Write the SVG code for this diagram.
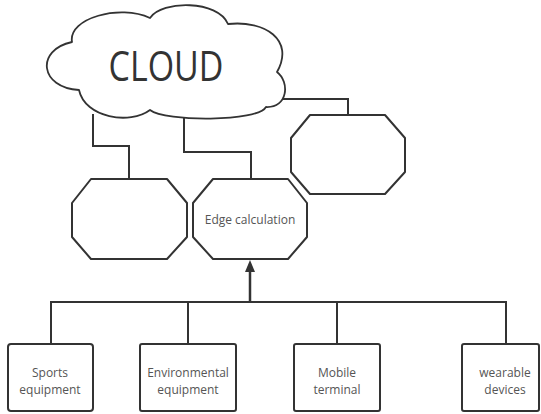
<svg xmlns="http://www.w3.org/2000/svg" width="541" height="414" viewBox="0 0 541 414">
<style>
.s{fill:#fff;stroke:#333;stroke-width:2;stroke-linejoin:round}
.c{fill:none;stroke:#333;stroke-width:2}
.t{font-family:"Open Sans","Noto Sans",sans-serif;font-size:12px;fill:#555;text-anchor:middle}
</style>
<g id="connectors">
<polyline class="c" points="93,114 93,146 129,146 129,179"/>
<polyline class="c" points="184,118 184,152 251,152 251,179"/>
<polyline class="c" points="280,99 348,99 348,115"/>
<polyline class="c" points="51,344 51,302 506,302 506,344"/>
<line class="c" x1="188" y1="302" x2="188" y2="344"/>
<line class="c" x1="337" y1="302" x2="337" y2="344"/>
<line class="c" x1="250" y1="302" x2="250" y2="272" style="stroke-width:2.5"/>
<path d="M245,272 L250,260 L255,272 Z" fill="#333"/>
</g>
<g id="cloud">
<path class="s" style="stroke-width:1.8" d="M72,42 C68,18 120,4 150,18 C162,0 218,0 228,24 C265,20 295,40 277,72 C290,82 288,108 266,107 C258,122 165,122 150,110 C130,125 85,118 79,90 C40,88 35,50 72,42 Z"/>
<text x="166" y="81" style="font-family:'Open Sans','Noto Sans',sans-serif;font-size:42px;fill:#333;text-anchor:middle" textLength="115" lengthAdjust="spacingAndGlyphs">CLOUD</text>
</g>
<g id="octagon-left">
<polygon class="s" points="91,179 167,179 187,203 187,237 167,259 91,259 72,237 72,203"/>
</g>
<g id="octagon-edge">
<polygon class="s" points="213,179 288,179 307,203 307,237 288,259 213,259 193,237 193,203"/>
<text class="t" x="250" y="224">Edge calculation</text>
</g>
<g id="octagon-right">
<polygon class="s" points="310,115 385,115 405,138 405,172 385,194 310,194 291,172 291,138"/>
</g>
<g id="box-sports">
<rect class="s" x="8" y="344" width="85" height="67" rx="3"/>
<text class="t" x="50" y="377">Sports</text>
<text class="t" x="50" y="394">equipment</text>
</g>
<g id="box-env">
<rect class="s" x="140" y="344" width="96" height="67" rx="2"/>
<text class="t" x="188" y="377">Environmental</text>
<text class="t" x="188" y="394">equipment</text>
</g>
<g id="box-mobile">
<rect class="s" x="294" y="344" width="86" height="67" rx="2"/>
<text class="t" x="337" y="377">Mobile</text>
<text class="t" x="337" y="394">terminal</text>
</g>
<g id="box-wearable">
<rect class="s" x="462" y="344" width="77" height="67" rx="2"/>
<text class="t" x="505" y="377">wearable</text>
<text class="t" x="505" y="394">devices</text>
</g>
</svg>
